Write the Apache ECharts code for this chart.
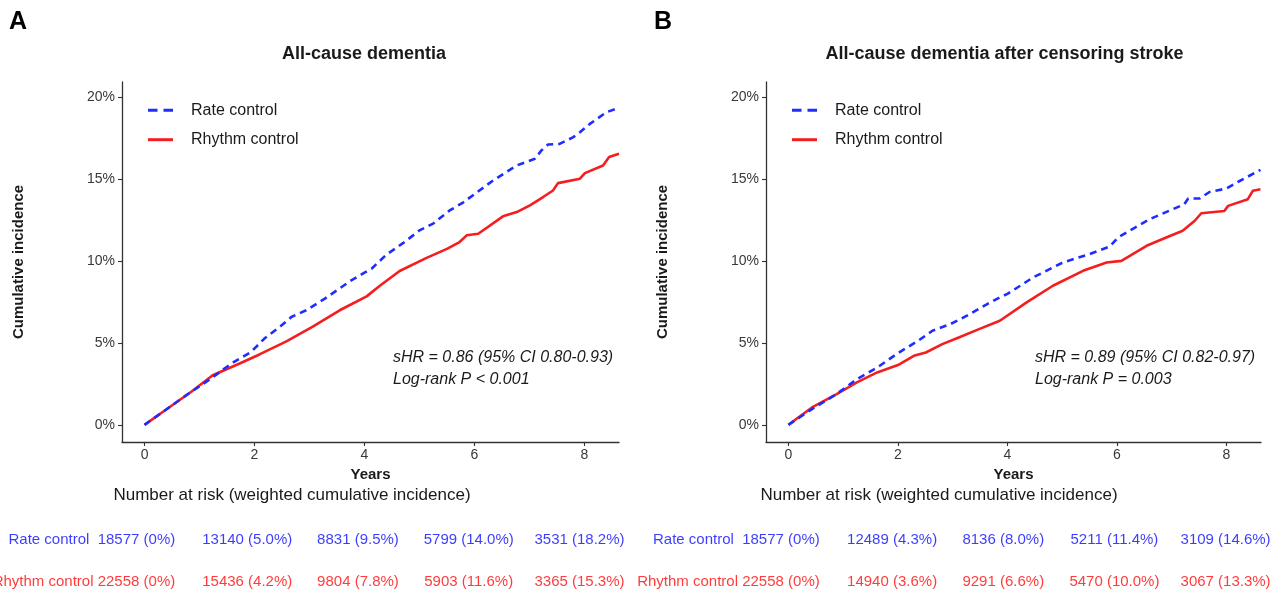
<!DOCTYPE html>
<html>
<head>
<meta charset="utf-8">
<script src="https://cdn.jsdelivr.net/npm/echarts@6/dist/echarts.min.js"></script>
<style>
html,body{margin:0;padding:0;background:#fff;}
#chart{width:1282px;height:593px;}
</style>
</head>
<body>
<div id="chart"></div>
<script>
// ---------- data ----------
const seriesNames = ['Rate control', 'Rhythm control'];
const xTicks = [0, 2, 4, 6, 8];
const yTicks = [0, 5, 10, 15, 20];

// Panel A: All-cause dementia
const rateA_t = [0, 0.42, 0.85, 1.21, 1.58, 1.94, 2.18, 2.5, 2.67, 2.94, 3.28, 3.76, 4.0, 4.13, 4.4, 4.7, 5.01, 5.25, 5.55, 5.8, 6.01, 6.34, 6.77, 7.10, 7.22, 7.34, 7.55, 7.80, 7.92, 8.10, 8.40, 8.63];
const rateA_v = [0, 1.0, 2.02, 2.83, 3.75, 4.46, 5.27, 6.1, 6.59, 7.0, 7.71, 8.83, 9.3, 9.54, 10.4, 11.1, 11.9, 12.3, 13.1, 13.6, 14.12, 14.93, 15.85, 16.26, 16.77, 17.13, 17.17, 17.58, 17.88, 18.39, 19.10, 19.37];
const rhythmA_t = [0, 0.42, 0.85, 1.24, 1.73, 2.09, 2.58, 3.06, 3.55, 4.04, 4.28, 4.64, 5.13, 5.5, 5.73, 5.86, 6.07, 6.52, 6.77, 7.01, 7.25, 7.43, 7.52, 7.92, 8.01, 8.34, 8.45, 8.63];
const rhythmA_v = [0, 1.0, 2.02, 3.03, 3.75, 4.3, 5.1, 6.0, 7.0, 7.85, 8.5, 9.4, 10.2, 10.75, 11.17, 11.58, 11.68, 12.74, 13.0, 13.41, 13.92, 14.32, 14.77, 15.04, 15.38, 15.85, 16.36, 16.56];

// Panel B: All-cause dementia after censoring stroke
const rateB_t = [0, 0.43, 0.88, 1.25, 1.62, 2.0, 2.37, 2.63, 2.96, 3.26, 3.63, 3.86, 4.0, 4.47, 5.01, 5.50, 5.87, 6.02, 6.60, 7.02, 7.23, 7.30, 7.51, 7.69, 8.0, 8.24, 8.62];
const rateB_v = [0, 0.96, 1.88, 2.79, 3.5, 4.38, 5.14, 5.75, 6.16, 6.67, 7.38, 7.79, 8.0, 9.01, 9.92, 10.43, 10.9, 11.45, 12.57, 13.18, 13.48, 13.83, 13.83, 14.23, 14.44, 14.9, 15.58];
const rhythmB_t = [0, 0.43, 0.88, 1.25, 1.62, 2.0, 2.29, 2.51, 2.81, 3.11, 3.48, 3.86, 4.35, 4.83, 5.38, 5.81, 6.08, 6.54, 6.90, 7.20, 7.42, 7.54, 7.96, 8.03, 8.39, 8.48, 8.62];
const rhythmB_v = [0, 1.06, 1.88, 2.59, 3.2, 3.65, 4.22, 4.42, 4.93, 5.34, 5.85, 6.36, 7.48, 8.5, 9.41, 9.92, 10.02, 10.94, 11.45, 11.86, 12.47, 12.93, 13.07, 13.38, 13.79, 14.3, 14.4];

// Number at risk (weighted cumulative incidence)
const riskTimes = [0, 2, 4, 6, 8];
const rateA_n = [18577, 13140, 8831, 5799, 3531];
const rateA_p = ['0%', '5.0%', '9.5%', '14.0%', '18.2%'];
const rhythmA_n = [22558, 15436, 9804, 5903, 3365];
const rhythmA_p = ['0%', '4.2%', '7.8%', '11.6%', '15.3%'];
const rateB_n = [18577, 12489, 8136, 5211, 3109];
const rateB_p = ['0%', '4.3%', '8.0%', '11.4%', '14.6%'];
const rhythmB_n = [22558, 14940, 9291, 5470, 3067];
const rhythmB_p = ['0%', '3.6%', '6.6%', '10.0%', '13.3%'];

const titles = ['All-cause dementia', 'All-cause dementia after censoring stroke'];
const panelLetters = ['A', 'B'];
const annotations = [
  ['sHR = 0.86 (95% CI 0.80-0.93)', 'Log-rank P < 0.001'],
  ['sHR = 0.89 (95% CI 0.82-0.97)', 'Log-rank P = 0.003']
];
const riskHeading = 'Number at risk (weighted cumulative incidence)';

// ---------- style ----------
const FONT = '"Liberation Sans", Arial, Helvetica, sans-serif';
const BLUE = '#1f2dff';
const RED = '#f51e1e';
const BLUE_TXT = '#0a0aff';
const RED_TXT = '#ff0a0a';
const AX = '#333333';
const TXT = '#1a1a1a';
const LBL = '#383838';

function zip(t, v) { return t.map((x, i) => [x, v[i]]); }

const legendIcons = [
  'path://M0,0h9.5v3h-9.5z M15.5,0h9.5v3h-9.5z',
  'path://M0,0h25v3h-25z'
];

const panels = [
  {left: 122, width: 497, titleX: 364, legendX: 148, annX: 393, letterX: 9,
   tblLeft: 81.1, tblWidth: 553.75, headX: 292,
   rate: zip(rateA_t, rateA_v), rhythm: zip(rhythmA_t, rhythmA_v),
   rn: rateA_n, rp: rateA_p, hn: rhythmA_n, hp: rhythmA_p},
  {left: 766, width: 495, titleX: 1004.5, legendX: 792, annX: 1035, letterX: 654,
   tblLeft: 725.4, tblWidth: 555.75, headX: 939,
   rate: zip(rateB_t, rateB_v), rhythm: zip(rhythmB_t, rhythmB_v),
   rn: rateB_n, rp: rateB_p, hn: rhythmB_n, hp: rhythmB_p}
];

const grid = [], xAxis = [], yAxis = [], series = [], legend = [], title = [], graphic = [];

panels.forEach((p, k) => {
  // main plot grid
  grid.push({left: p.left, width: p.width, top: 82, height: 360, containLabel: false});
  xAxis.push({
    type: 'value', gridIndex: 2 * k, min: -0.41, max: 8.63,
    axisLine: {show: true, onZero: false, lineStyle: {color: AX, width: 1.3}},
    axisTick: {show: true, length: 4, customValues: xTicks, lineStyle: {color: AX, width: 1.1}},
    axisLabel: {customValues: xTicks, fontSize: 14, color: LBL, fontFamily: FONT, margin: 6},
    splitLine: {show: false},
    name: 'Years', nameLocation: 'middle', nameGap: 19,
    nameTextStyle: {fontSize: 15, fontWeight: 'bold', color: TXT, fontFamily: FONT}
  });
  yAxis.push({
    type: 'value', gridIndex: 2 * k, min: -1.05, max: 20.95,
    axisLine: {show: true, onZero: false, lineStyle: {color: AX, width: 1.3}},
    axisTick: {show: true, length: 4, customValues: yTicks, lineStyle: {color: AX, width: 1.1}},
    axisLabel: {customValues: yTicks, formatter: v => v + '%', fontSize: 14, color: LBL, fontFamily: FONT, margin: 7},
    splitLine: {show: false},
    name: 'Cumulative incidence', nameLocation: 'middle', nameGap: 96,
    nameTextStyle: {fontSize: 15, fontWeight: 'bold', color: TXT, fontFamily: FONT}
  });
  // risk table grid (hidden axes): row 0 = Rate control, row 1 = Rhythm control
  grid.push({left: p.tblLeft, width: p.tblWidth, top: 529, height: 63});
  xAxis.push({type: 'value', gridIndex: 2 * k + 1, min: -1, max: 9, show: false});
  yAxis.push({type: 'value', gridIndex: 2 * k + 1, min: -0.25, max: 1.25, inverse: true, show: false});

  series.push({
    name: seriesNames[0], type: 'line', xAxisIndex: 2 * k, yAxisIndex: 2 * k,
    data: p.rate, symbol: 'none', showSymbol: false, z: 3,
    lineStyle: {color: BLUE, width: 2.6, type: [7, 5]}, itemStyle: {color: BLUE}
  });
  series.push({
    name: seriesNames[1], type: 'line', xAxisIndex: 2 * k, yAxisIndex: 2 * k,
    data: p.rhythm, symbol: 'none', showSymbol: false, z: 2,
    lineStyle: {color: RED, width: 2.6, type: 'solid'}, itemStyle: {color: RED}
  });

  // risk table rows
  const rows = [[p.rn, p.rp, BLUE_TXT, seriesNames[0] + '  '], [p.hn, p.hp, RED_TXT, seriesNames[1] + ' ']];
  rows.forEach((r, ri) => {
    series.push({
      type: 'scatter', xAxisIndex: 2 * k + 1, yAxisIndex: 2 * k + 1,
      symbolSize: 0, silent: true, itemStyle: {color: 'transparent'},
      label: {show: true, position: 'inside', fontSize: 15, fontFamily: FONT, color: r[2]},
      data: riskTimes.map((t, i) => {
        const txt = r[0][i] + ' (' + r[1][i] + ')';
        if (i === 0) {
          return {value: [t, ri],
            label: {formatter: r[3] + txt, align: 'right', offset: [38.75, 0]}};
        }
        return {value: [t, ri], label: {formatter: txt, align: 'center'}};
      })
    });
  });

  legend.push({
    data: seriesNames.map((n, i) => ({name: n, icon: legendIcons[i]})),
    orient: 'vertical', left: p.legendX, top: 102.3,
    itemWidth: 25, itemHeight: 14, itemGap: 13.4, padding: 0,
    textStyle: {fontSize: 16, color: TXT, fontFamily: FONT, padding: [0, 0, 0, 13]}
  });

  title.push({
    text: titles[k], left: p.titleX, top: 45, textAlign: 'center', padding: 0,
    textStyle: {fontSize: 18, fontWeight: 'bold', color: TXT, fontFamily: FONT}
  });
  title.push({
    text: riskHeading, left: p.headX, top: 486.5, textAlign: 'center', padding: 0,
    textStyle: {fontSize: 17, fontWeight: 'normal', color: TXT, fontFamily: FONT}
  });

  graphic.push({
    type: 'text', left: p.letterX, top: 10,
    style: {text: panelLetters[k], font: 'bold 25px ' + FONT, fill: '#000'}
  });
  annotations[k].forEach((line, li) => {
    graphic.push({
      type: 'text', x: p.annX, y: 358 + 22 * li,
      style: {text: line, font: 'italic 16px ' + FONT, fill: TXT, verticalAlign: 'middle', align: 'left'}
    });
  });
});

const chart = echarts.init(document.getElementById('chart'), null, {renderer: 'canvas'});
chart.setOption({
  backgroundColor: '#ffffff',
  animation: false,
  textStyle: {fontFamily: FONT},
  title, grid, xAxis, yAxis, series, legend, graphic
});
</script>
</body>
</html>
